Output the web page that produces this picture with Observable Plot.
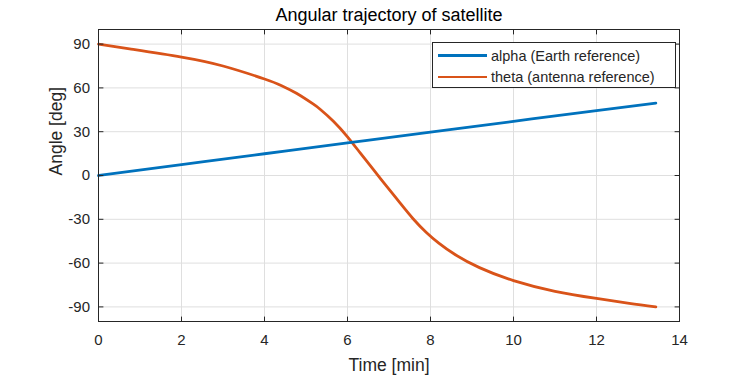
<!DOCTYPE html>
<html>
<head>
<meta charset="utf-8">
<script src="https://cdn.jsdelivr.net/npm/d3@7"></script>
<script src="https://cdn.jsdelivr.net/npm/@observablehq/plot@0.6"></script>
<style>
  html, body { margin: 0; padding: 0; background: #fff; }
  #wrap { position: relative; width: 750px; height: 375px; font-family: "Liberation Sans", Arial, Helvetica, sans-serif; }
  #legend { position: absolute; left: 432px; top: 42px; width: 244px; height: 46px; border: 1px solid #262626; background: #fff; box-sizing: border-box; }
  .row { position: absolute; left: 0; height: 20px; }
  .swatch { position: absolute; left: 5px; width: 49px; height: 2.6px; }
  .lbl { position: absolute; left: 58px; font-size: 14.5px; color: #262626; white-space: nowrap; line-height: 20px; top: 0; }
</style>
</head>
<body>
<div id="wrap"></div>
<script>
const titleText = "Angular trajectory of satellite";
const xLabel = "Time [min]";
const yLabel = "Angle [deg]";
const seriesNames = ["alpha (Earth reference)", "theta (antenna reference)"];
const seriesColors = ["#0072BD", "#D95319"];

const xTicks = [0, 2, 4, 6, 8, 10, 12, 14];
const yTicks = [-90, -60, -30, 0, 30, 60, 90];

const timeAlpha = [0, 2, 4, 6, 8, 10, 12, 13.43];
const alphaValues = [0, 7.4, 14.9, 22.3, 29.7, 37.1, 44.4, 49.6];

const timeTheta = [0, 0.75, 2, 3, 4, 4.4, 4.77, 5.17, 5.34, 5.66, 6, 6.31, 6.63, 6.94, 7.26, 7.58, 7.9, 8.2, 8.6, 9.18, 10, 11, 12, 12.79, 13.43];
const thetaValues = [90, 86.7, 81.1, 75.0, 66.1, 61.7, 56.3, 49.0, 45.4, 37.2, 26.5, 15.3, 3.8, -7.3, -18.6, -29.6, -39.0, -46.3, -54.3, -63.1, -72.0, -79.3, -84.2, -87.6, -90];

const alphaData = timeAlpha.map((t, i) => ({t, v: alphaValues[i]}));
const thetaData = timeTheta.map((t, i) => ({t, v: thetaValues[i]}));

const tickShape = { draw(ctx, l) { ctx.moveTo(0, 0); ctx.lineTo(0, -l); } };
const axisColor = "#262626";
const gridColor = "#dfdfdf";
const fmt = d => String(d);

const plot = Plot.plot({
  width: 750,
  height: 375,
  marginTop: 29,
  marginRight: 71,
  marginBottom: 54,
  marginLeft: 98,
  style: { fontFamily: '"Liberation Sans", Arial, Helvetica, sans-serif', background: "transparent", overflow: "visible" },
  x: { domain: [0, 14] },
  y: { domain: [-100, 100] },
  marks: [
    Plot.gridX(xTicks, { stroke: gridColor, strokeOpacity: 1, strokeWidth: 1 }),
    Plot.gridY(yTicks, { stroke: gridColor, strokeOpacity: 1, strokeWidth: 1 }),
    Plot.line(thetaData, { x: "t", y: "v", stroke: seriesColors[1], strokeWidth: 2.8, curve: "natural" }),
    Plot.line(alphaData, { x: "t", y: "v", stroke: seriesColors[0], strokeWidth: 2.8, curve: "natural" }),
    Plot.frame({ stroke: axisColor, strokeWidth: 1 }),
    Plot.vector(xTicks, { x: d => d, frameAnchor: "bottom", length: 4.5, rotate: 0, anchor: "start", shape: tickShape, stroke: axisColor, strokeWidth: 1 }),
    Plot.vector(xTicks, { x: d => d, frameAnchor: "top", length: 4.5, rotate: 180, anchor: "start", shape: tickShape, stroke: axisColor, strokeWidth: 1 }),
    Plot.vector(yTicks, { y: d => d, frameAnchor: "left", length: 4.5, rotate: 90, anchor: "start", shape: tickShape, stroke: axisColor, strokeWidth: 1 }),
    Plot.vector(yTicks, { y: d => d, frameAnchor: "right", length: 4.5, rotate: -90, anchor: "start", shape: tickShape, stroke: axisColor, strokeWidth: 1 }),
    Plot.axisX({ ticks: xTicks, tickFormat: fmt, tickSize: 0, tickPadding: 13, label: null, fontSize: 15, color: axisColor }),
    Plot.axisY({ ticks: yTicks, tickFormat: fmt, tickSize: 0, tickPadding: 8.5, label: null, fontSize: 15, color: axisColor }),
    Plot.text([titleText], { text: d => d, frameAnchor: "top", dy: -14.5, lineAnchor: "middle", fontSize: 18, fill: "#000" }),
    Plot.text([xLabel], { text: d => d, frameAnchor: "bottom", dy: 44, lineAnchor: "middle", fontSize: 17.5, fill: axisColor }),
    Plot.text([yLabel], { text: d => d, frameAnchor: "left", dx: -42, rotate: -90, lineAnchor: "middle", fontSize: 17.5, fill: axisColor })
  ]
});

const wrap = document.getElementById("wrap");
wrap.appendChild(plot);

const legend = document.createElement("div");
legend.id = "legend";
seriesNames.forEach((name, i) => {
  const row = document.createElement("div");
  row.className = "row";
  row.style.top = (2.5 + i * 21.4) + "px";
  row.style.width = "100%";
  const sw = document.createElement("div");
  sw.className = "swatch";
  sw.style.background = seriesColors[i];
  sw.style.top = "8.7px";
  const lb = document.createElement("div");
  lb.className = "lbl";
  lb.textContent = name;
  row.appendChild(sw);
  row.appendChild(lb);
  legend.appendChild(row);
});
wrap.appendChild(legend);
</script>
</body>
</html>
